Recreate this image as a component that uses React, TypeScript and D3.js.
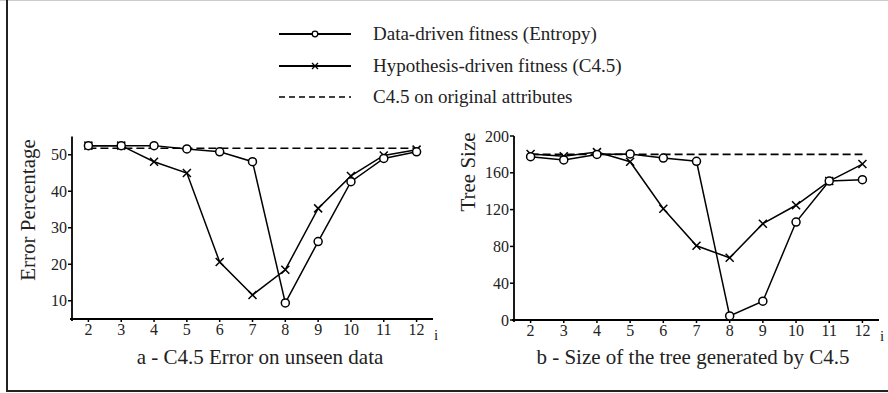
import * as d3 from "d3";
import { useRef, useEffect } from "react";

const iValues = [2, 3, 4, 5, 6, 7, 8, 9, 10, 11, 12];

// panel a - error percentage
const errEntropy = [52.5, 52.5, 52.5, 51.6, 50.8, 48.1, 9.4, 26.2, 42.6, 49.0, 50.8];
const errC45 = [52.5, 52.5, 48.1, 45.0, 20.6, 11.6, 18.5, 35.3, 44.2, 49.8, 51.4];
const errBaseline = 51.8;
const errTicks = [10, 20, 30, 40, 50];

// panel b - tree size
const sizeEntropy = [177.5, 174, 180, 180.5, 176, 172.5, 4.4, 20.4, 106.5, 151, 152.5];
const sizeC45 = [180.5, 178, 182.5, 172, 121, 80.7, 67.6, 104.7, 124.7, 151, 169.5];
const sizeBaseline = 180;
const sizeTicks = [0, 40, 80, 120, 160, 200];

const legendLabels = [
  "Data-driven fitness (Entropy)",
  "Hypothesis-driven fitness (C4.5)",
  "C4.5 on original attributes",
];

const FONT = "'Liberation Serif', 'Times New Roman', serif";

interface PanelProps {
  left: number;
  right: number;
  top: number;
  bottom: number;
  yDomain: [number, number];
  ticks: number[];
  entropy: number[];
  c45: number[];
  baseline: number;
  yLabel: string;
  yLabelX: number;
  yLabelY: number;
  title: string;
  titleX: number;
}

function drawPanel(svg: d3.Selection<SVGSVGElement, unknown, null, undefined>, p: PanelProps) {
  const x = d3.scaleLinear([1.5, 12.5], [p.left, p.right]);
  const y = d3.scaleLinear(p.yDomain, [p.bottom, p.top]);
  const g = svg.append("g");

  // axes
  g.append("line")
    .attr("x1", p.left).attr("x2", p.left)
    .attr("y1", p.top).attr("y2", p.bottom + 2)
    .attr("stroke", "#000").attr("stroke-width", 1.8);
  g.append("line")
    .attr("x1", p.left - 2).attr("x2", p.right)
    .attr("y1", p.bottom).attr("y2", p.bottom)
    .attr("stroke", "#000").attr("stroke-width", 1.8);

  // y ticks
  p.ticks.forEach((t) => {
    g.append("line")
      .attr("x1", p.left - 4).attr("x2", p.left)
      .attr("y1", y(t)).attr("y2", y(t))
      .attr("stroke", "#000").attr("stroke-width", 1.5);
    g.append("text")
      .attr("x", p.left - 5).attr("y", y(t) + 5.5)
      .attr("text-anchor", "end")
      .attr("font-family", FONT).attr("font-size", 16)
      .attr("fill", "#222")
      .text(t);
  });

  // x ticks
  iValues.forEach((v) => {
    g.append("line")
      .attr("x1", x(v)).attr("x2", x(v))
      .attr("y1", p.bottom - 1).attr("y2", p.bottom + 3)
      .attr("stroke", "#000").attr("stroke-width", 1.5);
    g.append("text")
      .attr("x", x(v)).attr("y", p.bottom + 16)
      .attr("text-anchor", "middle")
      .attr("font-family", FONT).attr("font-size", 16)
      .attr("fill", "#222")
      .text(v);
  });
  g.append("text")
    .attr("x", p.right + 1).attr("y", p.bottom + 21)
    .attr("font-family", FONT).attr("font-size", 15)
    .attr("fill", "#222")
    .text("i");

  // baseline
  g.append("line")
    .attr("x1", x(2)).attr("x2", x(12))
    .attr("y1", y(p.baseline)).attr("y2", y(p.baseline))
    .attr("stroke", "#000").attr("stroke-width", 1.6)
    .attr("stroke-dasharray", "8,4");

  const line = d3.line<number>()
    .x((_, i) => x(iValues[i]))
    .y((d) => y(d));

  g.append("path").attr("d", line(p.c45))
    .attr("fill", "none").attr("stroke", "#000").attr("stroke-width", 1.5);
  g.append("path").attr("d", line(p.entropy))
    .attr("fill", "none").attr("stroke", "#000").attr("stroke-width", 1.5);

  p.c45.forEach((d, i) => {
    const cx = x(iValues[i]);
    const cy = y(d);
    g.append("path")
      .attr("d", `M${cx - 4},${cy - 4}L${cx + 4},${cy + 4}M${cx - 4},${cy + 4}L${cx + 4},${cy - 4}`)
      .attr("stroke", "#000").attr("stroke-width", 1.5);
  });
  p.entropy.forEach((d, i) => {
    g.append("circle")
      .attr("cx", x(iValues[i])).attr("cy", y(d)).attr("r", 4)
      .attr("fill", "#fff").attr("stroke", "#000").attr("stroke-width", 1.5);
  });

  g.append("text")
    .attr("transform", `translate(${p.yLabelX},${p.yLabelY}) rotate(-90)`)
    .attr("text-anchor", "middle")
    .attr("font-family", FONT).attr("font-size", 21)
    .attr("fill", "#222")
    .text(p.yLabel);

  g.append("text")
    .attr("x", p.titleX).attr("y", 364)
    .attr("text-anchor", "middle")
    .attr("font-family", FONT).attr("font-size", 21)
    .attr("fill", "#222")
    .text(p.title);
}

export default function App() {
  const svgRef = useRef<SVGSVGElement>(null);

  useEffect(() => {
    document.body.style.margin = "0";
    if (!svgRef.current) return;
    const svg = d3.select(svgRef.current);
    svg.selectAll("*").remove();

    svg.append("rect").attr("width", 888).attr("height", 393).attr("fill", "#fff");
    // frame
    svg.append("line").attr("x1", 0).attr("x2", 888).attr("y1", 0.5).attr("y2", 0.5)
      .attr("stroke", "#ccc").attr("stroke-width", 1);
    svg.append("line").attr("x1", 7).attr("x2", 7).attr("y1", 0).attr("y2", 392)
      .attr("stroke", "#222").attr("stroke-width", 2);
    svg.append("line").attr("x1", 6).attr("x2", 888).attr("y1", 391).attr("y2", 391)
      .attr("stroke", "#222").attr("stroke-width", 2);

    // legend
    const rowsY = [34, 66, 97];
    legendLabels.forEach((lab, i) => {
      const yy = rowsY[i];
      const lg = svg.append("g");
      lg.append("line")
        .attr("x1", 279).attr("x2", 351).attr("y1", yy).attr("y2", yy)
        .attr("stroke", "#000").attr("stroke-width", i === 2 ? 1.5 : 1.8)
        .attr("stroke-dasharray", i === 2 ? "6,4" : null);
      if (i === 0) {
        lg.append("circle").attr("cx", 315).attr("cy", yy).attr("r", 2.8)
          .attr("fill", "#fff").attr("stroke", "#000").attr("stroke-width", 1.3);
      } else if (i === 1) {
        lg.append("path")
          .attr("d", `M312,${yy - 3}L318,${yy + 3}M312,${yy + 3}L318,${yy - 3}`)
          .attr("stroke", "#000").attr("stroke-width", 1.3);
      }
      lg.append("text")
        .attr("x", 373).attr("y", yy + 6)
        .attr("font-family", FONT).attr("font-size", 19)
        .attr("fill", "#222")
        .text(lab);
    });

    drawPanel(svg, {
      left: 72, right: 433, top: 136.5, bottom: 319,
      yDomain: [5, 55], ticks: errTicks,
      entropy: errEntropy, c45: errC45, baseline: errBaseline,
      yLabel: "Error Percentage", yLabelX: 35, yLabelY: 210,
      title: "a - C4.5 Error on unseen data", titleX: 260,
    });
    drawPanel(svg, {
      left: 514, right: 879, top: 136, bottom: 320,
      yDomain: [0, 200], ticks: sizeTicks,
      entropy: sizeEntropy, c45: sizeC45, baseline: sizeBaseline,
      yLabel: "Tree Size", yLabelX: 475, yLabelY: 172,
      title: "b - Size of the tree generated by C4.5", titleX: 693,
    });
  }, []);

  return <svg ref={svgRef} width={888} height={393} style={{ display: "block" }} />;
}
